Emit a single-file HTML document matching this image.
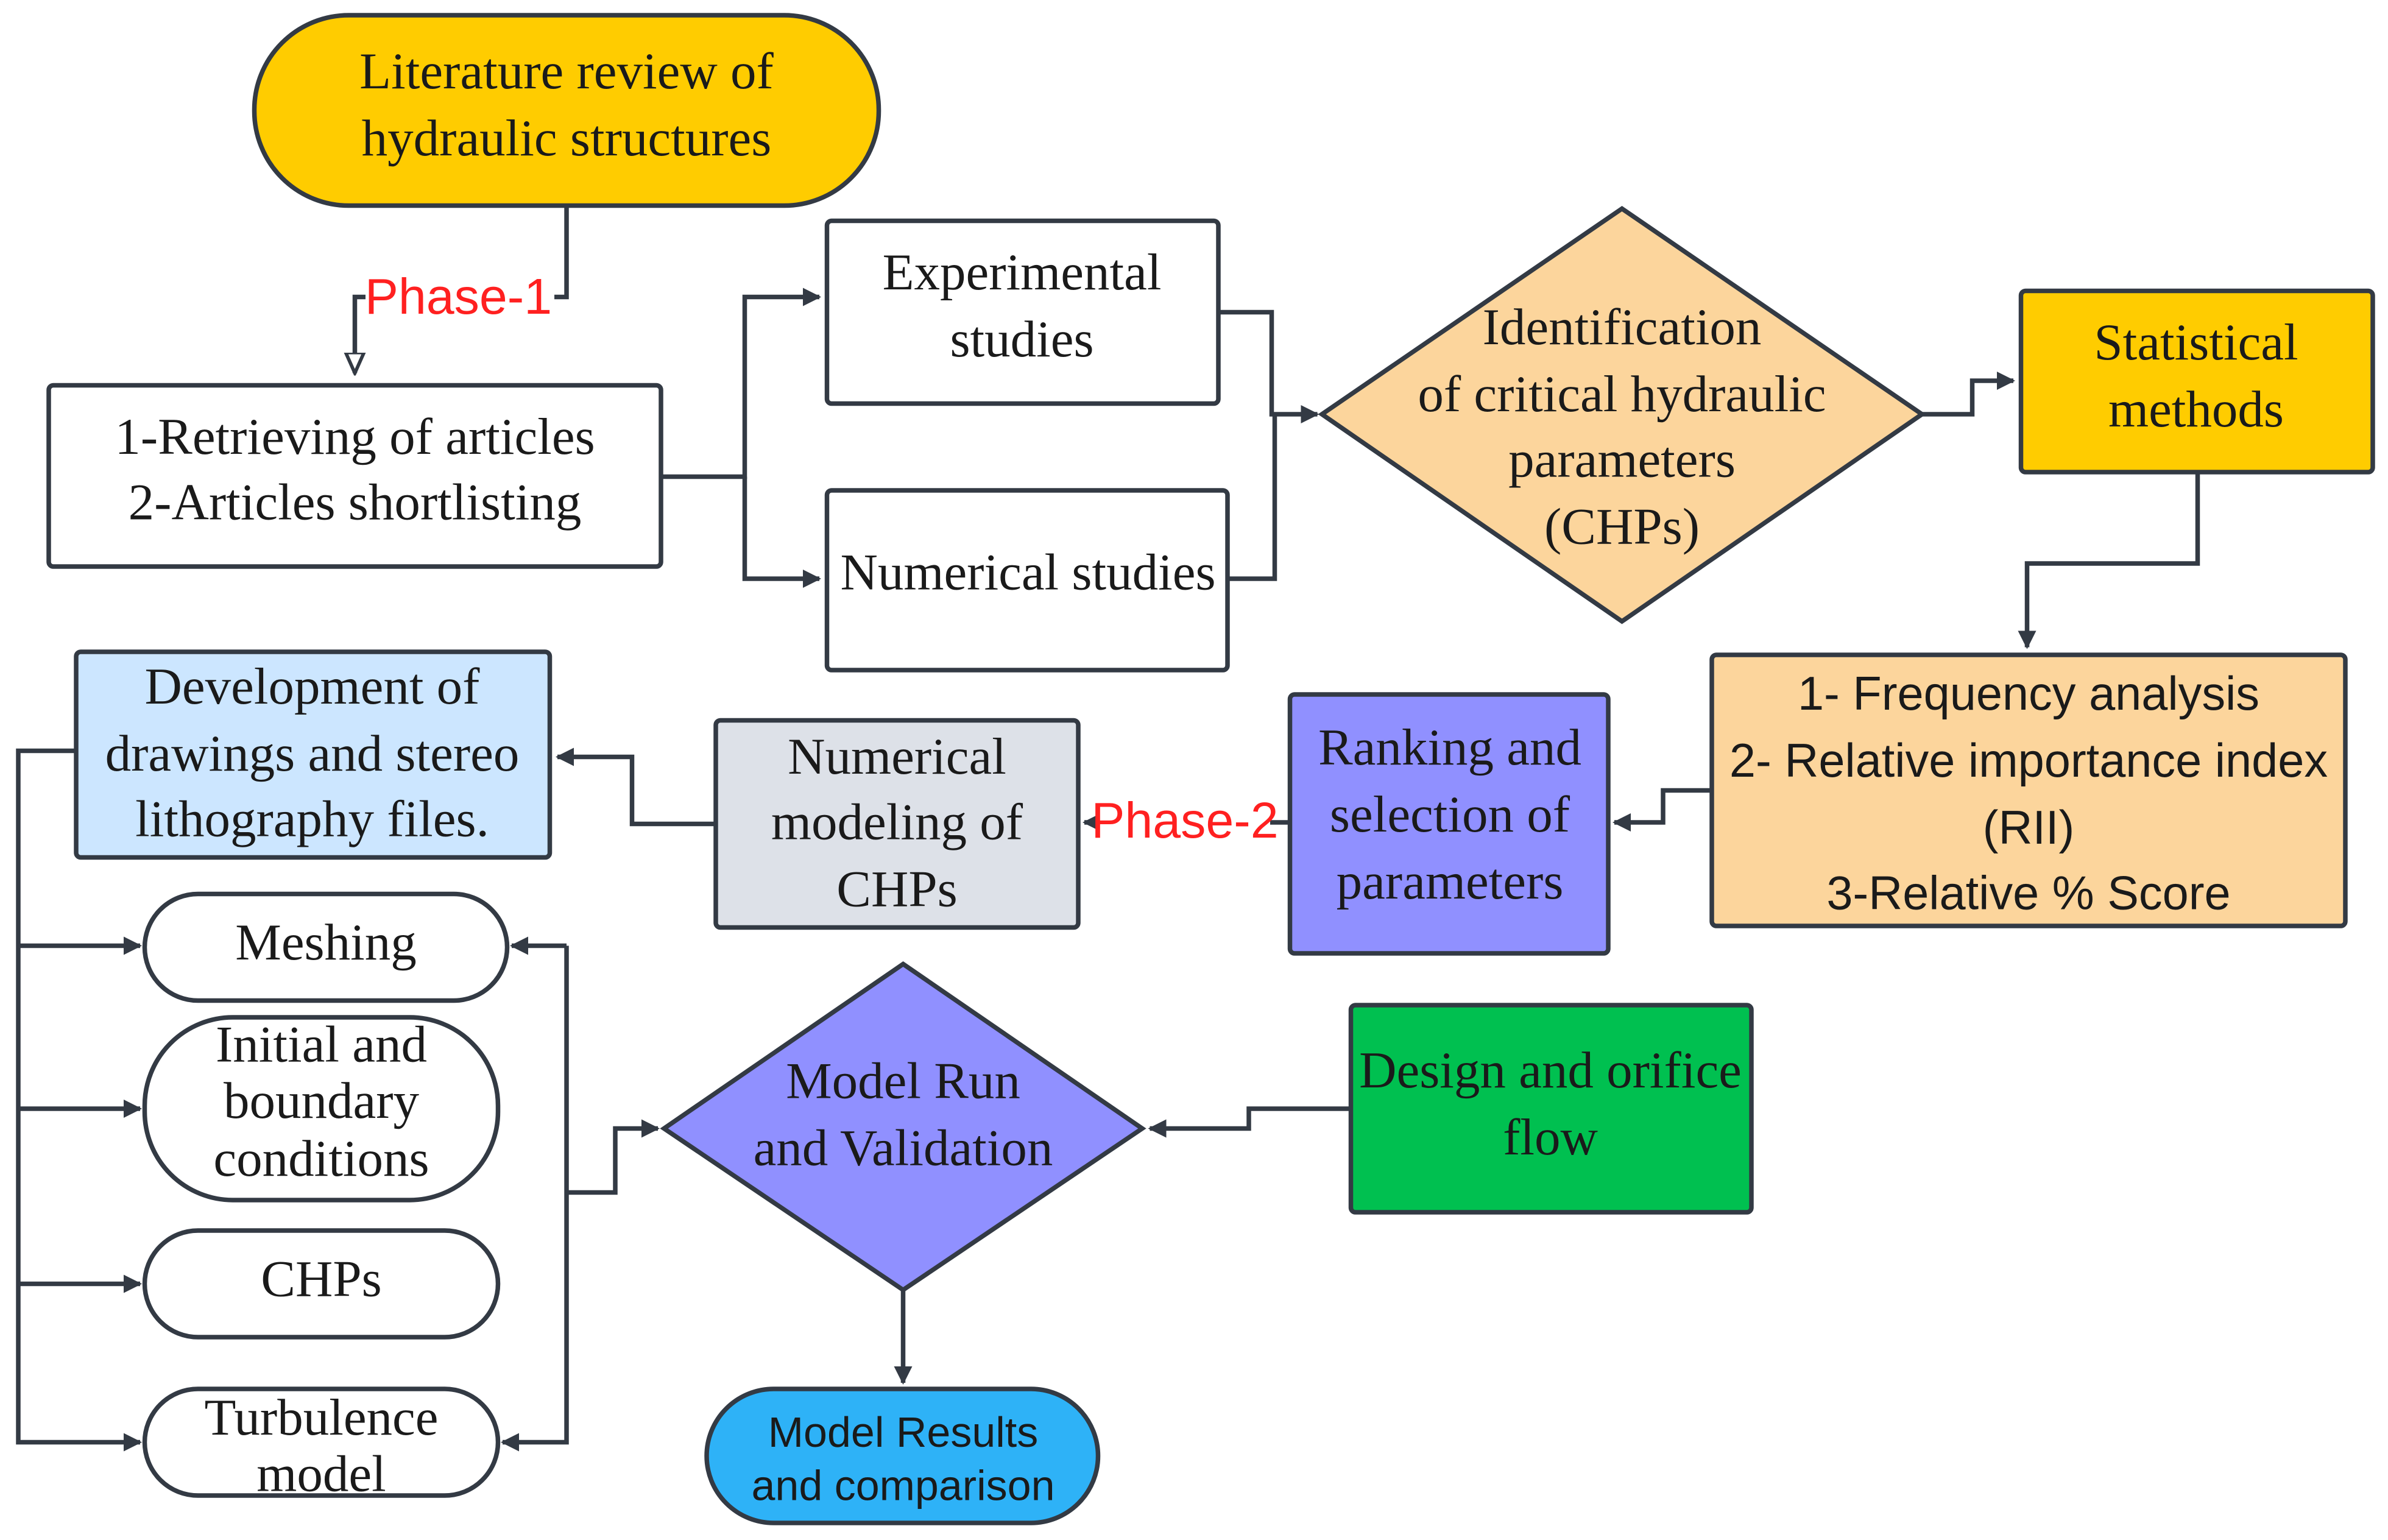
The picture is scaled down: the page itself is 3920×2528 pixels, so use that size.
<!DOCTYPE html>
<html><head><meta charset="utf-8"><style>
html,body{margin:0;padding:0;background:#fff;}
svg{display:block;}
.s{font-family:"Liberation Serif",serif;font-size:34px;fill:#1a1a1a;text-anchor:middle;}
.a{font-family:"Liberation Sans",sans-serif;font-size:31px;fill:#1a1a1a;text-anchor:middle;}
.m{font-family:"Liberation Sans",sans-serif;font-size:28px;fill:#1a1a1a;text-anchor:middle;}
.r{font-family:"Liberation Sans",sans-serif;font-size:33px;fill:#ff2020;text-anchor:middle;}
.b{stroke:#333a44;stroke-width:3;}
.l{stroke:#333a44;stroke-width:3;fill:none;}
</style></head><body>
<svg width="3920" height="2528" viewBox="0 0 1568 1011.2" xmlns="http://www.w3.org/2000/svg">
<defs>
<marker id="m" viewBox="0 0 10 10" refX="9" refY="5" markerWidth="4" markerHeight="4" orient="auto"><path d="M0,0 L10,5 L0,10 z" fill="#333a44"/></marker>
<marker id="o" viewBox="0 0 10 10" refX="9" refY="5" markerWidth="5" markerHeight="5" orient="auto"><path d="M0,1 L9,5 L0,9 z" fill="#fff" stroke="#333a44" stroke-width="1.5"/></marker>
</defs>
<rect width="1568" height="1012" fill="#fff"/>

<path class="l" d="M372,135 V195 H233 V245" marker-end="url(#o)"/>
<rect x="240" y="176" width="124" height="38" fill="#fff"/>
<text class="r" x="301" y="206">Phase-1</text>
<path class="l" d="M434,313 H489 V195 H538" marker-end="url(#m)"/>
<path class="l" d="M489,313 V380 H538" marker-end="url(#m)"/>
<path class="l" d="M800,205 H835 V272 H865" marker-end="url(#m)"/>
<path class="l" d="M806,380 H837 V272"/>
<path class="l" d="M1262,272 H1295 V250 H1322" marker-end="url(#m)"/>
<path class="l" d="M1443,310 V370 H1331 V425" marker-end="url(#m)"/>
<path class="l" d="M1124,519 H1092 V540 H1060" marker-end="url(#m)"/>
<path class="l" d="M847,540 H712" marker-end="url(#m)"/>
<rect x="722" y="520" width="112" height="38" fill="#fff"/>
<text class="r" x="778" y="550">Phase-2</text>
<path class="l" d="M470,541 H415 V497 H366" marker-end="url(#m)"/>
<path class="l" d="M50,493 H12 V947 H92" marker-end="url(#m)"/>
<path class="l" d="M12,621 H92" marker-end="url(#m)"/>
<path class="l" d="M12,728 H92" marker-end="url(#m)"/>
<path class="l" d="M12,843 H92" marker-end="url(#m)"/>
<path class="l" d="M372,621 V947 H330" marker-end="url(#m)"/>
<path class="l" d="M372,621 H336" marker-end="url(#m)"/>
<path class="l" d="M372,783 H404 V741 H432" marker-end="url(#m)"/>
<path class="l" d="M593,847 V908" marker-end="url(#m)"/>
<path class="l" d="M887,728 H820 V741 H755" marker-end="url(#m)"/>

<rect class="b" x="167" y="10" width="410" height="125" rx="62" fill="#FFCC00"/>
<text class="s" x="372" y="58">Literature review of</text>
<text class="s" x="372" y="102">hydraulic structures</text>

<rect class="b" x="32" y="253" width="402" height="119" rx="3" fill="#fff"/>
<text class="s" x="233" y="298">1-Retrieving of articles</text>
<text class="s" x="233" y="341">2-Articles shortlisting</text>

<rect class="b" x="543" y="145" width="257" height="120" rx="3" fill="#fff"/>
<text class="s" x="671" y="190">Experimental</text>
<text class="s" x="671" y="234">studies</text>

<rect class="b" x="543" y="322" width="263" height="118" rx="3" fill="#fff"/>
<text class="s" x="675" y="387">Numerical studies</text>

<polygon class="b" points="1065,137 1262,272 1065,408 868,272" fill="#FCD59C"/>
<text class="s" x="1065" y="226">Identification</text>
<text class="s" x="1065" y="270">of critical hydraulic</text>
<text class="s" x="1065" y="313">parameters</text>
<text class="s" x="1065" y="357">(CHPs)</text>

<rect class="b" x="1327" y="191" width="231" height="119" rx="3" fill="#FFCC00"/>
<text class="s" x="1442" y="236">Statistical</text>
<text class="s" x="1442" y="280">methods</text>

<rect class="b" x="1124" y="430" width="416" height="178" rx="3" fill="#FCD59C"/>
<text class="a" x="1332" y="466">1- Frequency analysis</text>
<text class="a" x="1332" y="510">2- Relative importance index</text>
<text class="a" x="1332" y="554">(RII)</text>
<text class="a" x="1332" y="597">3-Relative % Score</text>

<rect class="b" x="847" y="456" width="209" height="170" rx="3" fill="#9090FF"/>
<text class="s" x="952" y="502">Ranking and</text>
<text class="s" x="952" y="546">selection of</text>
<text class="s" x="952" y="590">parameters</text>

<rect class="b" x="470" y="473" width="238" height="136" rx="3" fill="#DDE1E8"/>
<text class="s" x="589" y="508">Numerical</text>
<text class="s" x="589" y="551">modeling of</text>
<text class="s" x="589" y="595">CHPs</text>

<rect class="b" x="50" y="428" width="311" height="135" rx="3" fill="#CCE6FF"/>
<text class="s" x="205" y="462">Development of</text>
<text class="s" x="205" y="506">drawings and stereo</text>
<text class="s" x="205" y="549">lithography files.</text>

<rect class="b" x="95" y="587" width="238" height="70" rx="35" fill="#fff"/>
<text class="s" x="214" y="630">Meshing</text>
<rect class="b" x="95" y="668" width="232" height="120" rx="58" fill="#fff"/>
<text class="s" x="211" y="697">Initial and</text>
<text class="s" x="211" y="734">boundary</text>
<text class="s" x="211" y="772">conditions</text>
<rect class="b" x="95" y="808" width="232" height="70" rx="35" fill="#fff"/>
<text class="s" x="211" y="851">CHPs</text>
<rect class="b" x="95" y="912" width="232" height="70" rx="35" fill="#fff"/>
<text class="s" x="211" y="942">Turbulence</text>
<text class="s" x="211" y="979">model</text>

<polygon class="b" points="593,633 750,741 593,847 436,741" fill="#9090FF"/>
<text class="s" x="593" y="721">Model Run</text>
<text class="s" x="593" y="765">and Validation</text>

<rect class="b" x="464" y="912" width="257" height="88" rx="44" fill="#2EB2F7"/>
<text class="m" x="593" y="950">Model Results</text>
<text class="m" x="593" y="985">and comparison</text>

<rect class="b" x="887" y="660" width="263" height="136" rx="3" fill="#00C050"/>
<text class="s" x="1018" y="714">Design and orifice</text>
<text class="s" x="1018" y="758">flow</text>
</svg>
</body></html>
